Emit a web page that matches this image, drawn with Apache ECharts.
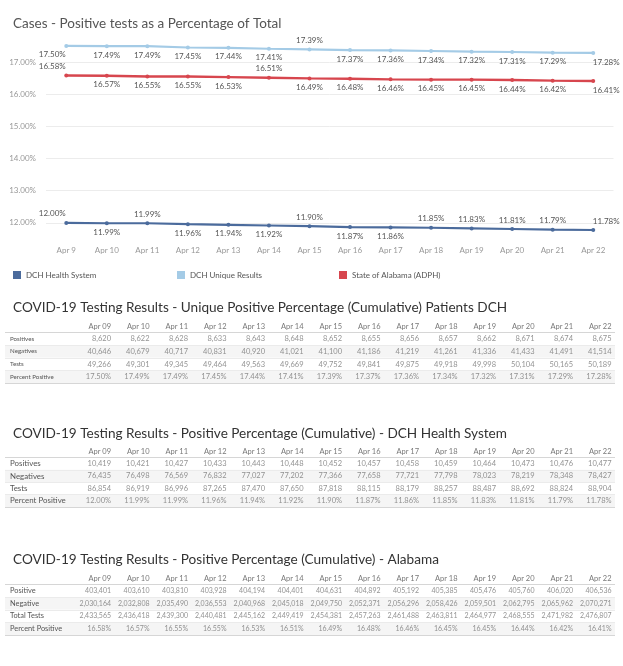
<!DOCTYPE html>
<html><head><meta charset="utf-8">
<script src="https://cdn.jsdelivr.net/npm/echarts@6/dist/echarts.min.js"></script>
<style>html,body{margin:0;padding:0;background:#fff}#c{width:623px;height:666px}</style>
</head><body><div id="c"></div>
<script>
// ---------- data ----------
const chartDates = ['Apr 9','Apr 10','Apr 11','Apr 12','Apr 13','Apr 14','Apr 15','Apr 16','Apr 17','Apr 18','Apr 19','Apr 20','Apr 21','Apr 22'];
const tableDates = ['Apr 09','Apr 10','Apr 11','Apr 12','Apr 13','Apr 14','Apr 15','Apr 16','Apr 17','Apr 18','Apr 19','Apr 20','Apr 21','Apr 22'];
const seriesNames = ['DCH Health System','DCH Unique Results','State of Alabama (ADPH)'];

const dchHealthPct = [12.00,11.99,11.99,11.96,11.94,11.92,11.90,11.87,11.86,11.85,11.83,11.81,11.79,11.78];
const dchUniquePct = [17.50,17.49,17.49,17.45,17.44,17.41,17.39,17.37,17.36,17.34,17.32,17.31,17.29,17.28];
const alabamaPct   = [16.58,16.57,16.55,16.55,16.53,16.51,16.49,16.48,16.46,16.45,16.45,16.44,16.42,16.41];

const uniqueRowNames = ['Positives','Negatives','Tests','Percent Positive'];
const uniquePositives = [8620,8622,8628,8633,8643,8648,8652,8655,8656,8657,8662,8671,8674,8675];
const uniqueNegatives = [40646,40679,40717,40831,40920,41021,41100,41186,41219,41261,41336,41433,41491,41514];
const uniqueTests     = [49266,49301,49345,49464,49563,49669,49752,49841,49875,49918,49998,50104,50165,50189];

const dchRowNames = ['Positives','Negatives','Tests','Percent Positive'];
const dchPositives = [10419,10421,10427,10433,10443,10448,10452,10457,10458,10459,10464,10473,10476,10477];
const dchNegatives = [76435,76498,76569,76832,77027,77202,77366,77658,77721,77798,78023,78219,78348,78427];
const dchTests     = [86854,86919,86996,87265,87470,87650,87818,88115,88179,88257,88487,88692,88824,88904];

const alRowNames = ['Positive','Negative','Total Tests','Percent Positive'];
const alPositive   = [403401,403610,403810,403928,404194,404401,404631,404892,405192,405385,405476,405760,406020,406536];
const alNegative   = [2030164,2032808,2035490,2036553,2040968,2045018,2049750,2052371,2056296,2058426,2059501,2062795,2065962,2070271];
const alTotalTests = [2433565,2436418,2439300,2440481,2445162,2449419,2454381,2457263,2461488,2463811,2464977,2468555,2471982,2476807];

const titles = [
  'Cases - Positive tests as a Percentage of Total',
  'COVID-19 Testing Results - Unique Positive Percentage (Cumulative) Patients DCH',
  'COVID-19 Testing Results - Positive Percentage (Cumulative) - DCH Health System',
  'COVID-19 Testing Results - Positive Percentage (Cumulative) - Alabama'
];

// label sides (indices whose label sits above the point)
const dchAbove = [0,2,6,9,10,11,12,13];
const uniqueAbove = [6];
const alabamaAbove = [0,5];

// ---------- styling ----------
const FONT = 'Lato';
const colDark = '#4b6b9c', colLight = '#a4cbe6', colRed = '#d7464e';

const pct = v => v.toFixed(2) + '%';
const num = v => v.toLocaleString('en-US');

function lineData(values, above) {
  return values.map((v, i) => {
    const dx = i === 0 ? -14 : (i === values.length - 1 ? 13 : 0);
    return { value: v, label: { position: above.includes(i) ? 'top' : 'bottom', offset: [dx, 0] } };
  });
}
function lineSeries(name, values, above, color, width) {
  return {
    type: 'line', name, xAxisIndex: 0, yAxisIndex: 0,
    data: lineData(values, above),
    symbol: 'circle', symbolSize: 4,
    lineStyle: { color, width }, itemStyle: { color },
    label: { show: true, distance: 3, formatter: p => pct(p.value), fontSize: 8, color: '#555', fontFamily: FONT },
    silent: true, animation: false
  };
}

const yMin = 11.5, yMax = 17.9, yStep = 0.5;
const gridColors = [];
for (let v = yMin; v <= yMax + 1e-9; v += yStep) gridColors.push(Math.abs(v - Math.round(v)) < 1e-9 ? '#ececec' : 'rgba(0,0,0,0)');
gridColors.push('rgba(0,0,0,0)');

// tables
const tables = [
  { rows: uniqueRowNames, values: [uniquePositives.map(num), uniqueNegatives.map(num), uniqueTests.map(num), dchUniquePct.map(pct)], top: 320, rowH: 12.6, rowFont: 6.2, valFont: 7.5, headFont: 7.5 },
  { rows: dchRowNames, values: [dchPositives.map(num), dchNegatives.map(num), dchTests.map(num), dchHealthPct.map(pct)], top: 445, rowH: 12.4, rowFont: 7.9, valFont: 7.5, headFont: 7.5 },
  { rows: alRowNames, values: [alPositive.map(num), alNegative.map(num), alTotalTests.map(num), alabamaPct.map(pct)], top: 572, rowH: 12.6, rowFont: 7.4, valFont: 7, headFont: 7.5 }
];

const grids = [{ left: 46, right: 9.5, top: 33, height: 206 }];
const xAxes = [{
  type: 'category', gridIndex: 0, data: chartDates, boundaryGap: true,
  axisLine: { show: false }, axisTick: { show: false },
  axisLabel: { color: '#999', fontSize: 8, margin: 7, fontFamily: FONT, interval: 0 }
}];
const yAxes = [{
  type: 'value', gridIndex: 0, min: yMin, max: yMax, interval: yStep,
  axisLine: { show: false }, axisTick: { show: false },
  axisLabel: { color: '#999', fontSize: 8, margin: 10, fontFamily: FONT,
    formatter: v => (Math.abs(v - Math.round(v)) < 1e-9 && v < yMax) ? v.toFixed(2) + '%' : '' },
  splitLine: { show: true, lineStyle: { color: gridColors, width: 1 } }
}];
const series = [
  lineSeries(seriesNames[0], dchHealthPct, dchAbove, colDark, 2.2),
  lineSeries(seriesNames[1], dchUniquePct, uniqueAbove, colLight, 2.2),
  lineSeries(seriesNames[2], alabamaPct, alabamaAbove, colRed, 2.4)
];

tables.forEach((t, k) => {
  const gi = k + 1;
  const nRows = t.rows.length + 1;
  grids.push({ left: 5, right: 8, top: t.top, height: t.rowH * nRows });
  xAxes.push({ type: 'value', gridIndex: gi, min: -2.78, max: 13.065, show: false });
  const lineCols = ['rgba(0,0,0,0)', '#d6d6d6'];
  for (let r = 1; r < nRows - 1; r++) lineCols.push('#ebebeb');
  lineCols.push('#d6d6d6');
  yAxes.push({
    type: 'category', gridIndex: gi, inverse: true, data: [''].concat(t.rows),
    axisLine: { show: false }, axisTick: { show: false },
    axisLabel: { inside: true, margin: 5, fontSize: t.rowFont, color: '#555', fontFamily: FONT, interval: 0 },
    splitLine: { show: true, interval: 0, lineStyle: { color: lineCols, width: 1 } },
    splitArea: { show: true, interval: 0, areaStyle: { color: ['#ffffff', '#ffffff', '#f5f5f5', '#ffffff', '#f5f5f5'] } }
  });
  series.push({
    type: 'scatter', xAxisIndex: gi, yAxisIndex: gi, symbolSize: 0.01, silent: true, animation: false,
    data: tableDates.map((d, i) => [i, 0, d]),
    label: { show: true, position: 'inside', align: 'right', verticalAlign: 'middle', offset: [-1, 0],
      formatter: p => p.value[2], fontSize: t.headFont, color: '#555', fontFamily: FONT }
  });
  const cells = [];
  t.values.forEach((row, r) => row.forEach((txt, i) => cells.push([i, r + 1, txt])));
  series.push({
    type: 'scatter', xAxisIndex: gi, yAxisIndex: gi, symbolSize: 0.01, silent: true, animation: false,
    data: cells,
    label: { show: true, position: 'inside', align: 'right', verticalAlign: 'middle', offset: [-1, 0],
      formatter: p => p.value[2], fontSize: t.valFont, color: '#777', fontFamily: FONT }
  });
});

const legendLefts = [8, 172, 334];
const legends = seriesNames.map((n, i) => ({
  data: [n], left: legendLefts[i], top: 266, icon: 'rect', itemWidth: 8, itemHeight: 8, itemGap: 5,
  textStyle: { fontSize: 8, color: '#555', fontFamily: FONT }, selectedMode: false
}));

const chart = echarts.init(document.getElementById('c'), null, { renderer: 'canvas' });
chart.setOption({
  animation: false,
  backgroundColor: '#fff',
  textStyle: { fontFamily: FONT },
  color: [colDark, colLight, colRed],
  title: [
    { text: titles[0], left: 8, top: 12, textStyle: { fontSize: 13.5, fontWeight: 'normal', color: '#555', fontFamily: FONT } },
    { text: titles[1], left: 8, top: 296, textStyle: { fontSize: 13.6, fontWeight: 'normal', color: '#333', fontFamily: FONT } },
    { text: titles[2], left: 8, top: 422, textStyle: { fontSize: 13.6, fontWeight: 'normal', color: '#333', fontFamily: FONT } },
    { text: titles[3], left: 8, top: 548, textStyle: { fontSize: 13.6, fontWeight: 'normal', color: '#333', fontFamily: FONT } }
  ],
  legend: legends,
  grid: grids, xAxis: xAxes, yAxis: yAxes, series
});
</script></body></html>
